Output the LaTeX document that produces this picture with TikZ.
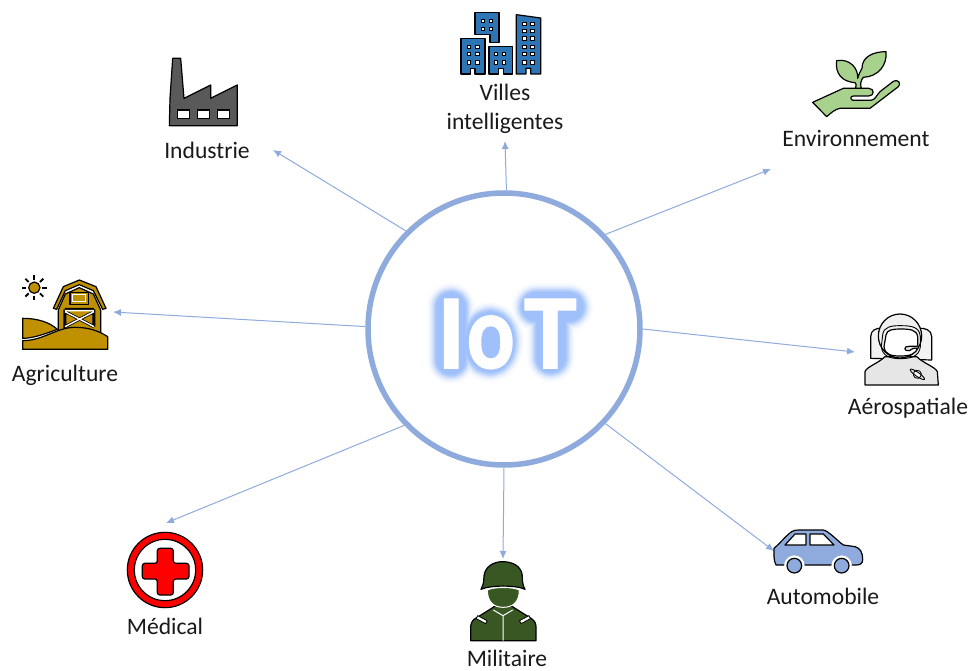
\documentclass[tikz,border=0pt]{standalone}
\usepackage{fontspec}
\usepackage{graphicx}
\setmainfont{Carlito}
\newfontfamily\iotfont{Carlito}[FakeBold=0.9,UprightFont=* Bold]
\usetikzlibrary{arrows.meta}
\definecolor{link}{HTML}{8FAADC}
\definecolor{glow}{HTML}{9FC0FA}
\definecolor{bldg}{HTML}{2E75B6}
\definecolor{fact}{HTML}{595959}
\definecolor{leaf}{HTML}{A9D18E}
\definecolor{barn}{HTML}{BF9000}
\definecolor{astro}{HTML}{E7E6E6}
\definecolor{army}{HTML}{385723}
\tikzset{
  hubring/.style={circle,draw=link,fill=white,line width=5.5pt,minimum size=272pt,inner sep=0pt},
  lbl/.style={font=\fontsize{23.6}{29}\selectfont,text=black!90,align=center,inner sep=0pt},
  conn/.style={draw=link,line width=1pt,-{Latex[length=8pt,width=7pt]}},
  ico/.style={draw=black,line width=1.2pt,line join=round},
  win/.style={fill=white,draw=black,line width=.9pt},
  zoomed/.style={scale=1/3}
}
\newcommand{\winat}[2]{\filldraw[win] (#1-5,#2-5) rectangle (#1+5,#2+5);}
\begin{document}
\begin{tikzpicture}[x=1pt,y=-1pt]
\useasboundingbox (0,0) rectangle (970,671);
% hub
\node[hubring] (hub) at (504,329) {};
\foreach \w/\c in {48/4,46/8,44/14,42/22,40/32,38/44,36/58,34/72,32/86,30/96,28/100}{
  \pgfmathsetmacro{\m}{\c}
  \draw[color=glow!\m!white,line width=\w pt,line cap=round,line join=round]
    (451,307)--(451,360)
    (490,342) ellipse (10 and 16)
    (536,307)--(569,307) (551,307)--(551,358);
}
\node[font=\fontsize{107}{107}\iotfont,text=white,inner sep=0pt] (iot) at (507,334) {I\kern1pt\scalebox{0.84}[1]{o}\kern9pt T};
% targets
\coordinate (tInd) at (273,150);
\coordinate (tVil) at (505,141);
\coordinate (tEnv) at (771,169);
\coordinate (tAer) at (855,352);
\coordinate (tAut) at (774,551);
\coordinate (tMil) at (503,559);
\coordinate (tMed) at (166,523);
\coordinate (tAgr) at (113,312);
\draw[conn] (hub.135.6) -- (tInd);
\draw[conn] (hub.89.6) -- (tVil);
\draw[conn] (hub.43.8) -- (tEnv);
\draw[conn] (hub.0.4) -- (tAer);
\draw[conn] (hub.-43.8) -- (tAut);
\draw[conn] (hub.-90) -- (tMil);
\draw[conn] (hub.-136.2) -- (tMed);
\draw[conn] (hub.179.6) -- (tAgr);
% labels
\node[lbl] (lInd) at (207,150) {Industrie};
\node[lbl] (lVil) at (505,109) {Villes\\intelligentes};
\node[lbl] (lEnv) at (856,138) {Environnement};
\node[lbl] (lAgr) at (65,375) {Agriculture};
\node[lbl] (lAer) at (908,408) {Aérospatiale};
\node[lbl] (lAut) at (823,596) {Automobile};
\node[lbl] (lMed) at (165,626) {Médical};
\node[lbl] (lMil) at (507,658) {Militaire};
% buildings
\begin{scope}[shift={(440,0)},zoomed]
\filldraw[ico,fill=bldg] (63,222)--(63,115)--(135,115)--(135,222)--(105,222)--(105,205)--(92,205)--(92,222)--cycle;
\filldraw[ico,fill=bldg] (105,38)--(177,38)--(177,128)--(150,128)--(150,103)--(105,103)--cycle;
\filldraw[ico,fill=bldg] (147,222)--(147,140)--(218,140)--(218,222)--(190,222)--(190,205)--(175,205)--(175,222)--cycle;
\filldraw[ico,fill=bldg] (229,222)--(229,44)--(302,54)--(302,222)--(272,222)--(272,205)--(258,205)--(258,222)--cycle;
\foreach \y in {140,162,187}{\foreach \x in {87,112}{\winat{\x}{\y}}}
\foreach \y in {62,86}{\foreach \x in {128,152}{\winat{\x}{\y}}}
\foreach \y in {162,187}{\foreach \x in {168,192}{\winat{\x}{\y}}}
\foreach \y in {72,92,115,140,162,187}{\foreach \x in {253,277}{\winat{\x}{\y}}}
\end{scope}
% factory
\begin{scope}[shift={(150,45)},zoomed]
\filldraw[ico,fill=fact] (58,242)--(60,160)--(68,40)--(92,40)--(102,160)--(182,120)--(182,160)--(262,120)--(262,242)--cycle;
\foreach \x in {83,143,203}{\filldraw[fill=white,draw=black,line width=1.2pt] (\x,195) rectangle (\x+35,220);}
\end{scope}
% plant and hand
\begin{scope}[shift={(800,40)},zoomed]
\filldraw[ico,fill=leaf] (38,187)--(130,145)--(206,145) .. controls (224,145) and (224,168) .. (206,168)--(160,168)
  .. controls (150,168) and (150,181) .. (160,181)--(212,181) .. controls (225,181) and (230,165) .. (240,155)
  --(280,124) .. controls (292,116) and (306,130) .. (295,140)--(210,205)--(120,205) .. controls (105,207) and (92,220) .. (80,230)--cycle;
\filldraw[ico,fill=leaf] (166,145) .. controls (170,135) and (168,128) .. (165,128)
  .. controls (125,125) and (105,100) .. (110,62) .. controls (150,55) and (175,85) .. (173,115)
  .. controls (178,100) and (180,95) .. (186,85) .. controls (186,50) and (220,35) .. (258,35)
  .. controls (262,75) and (235,110) .. (190,112) .. controls (182,120) and (180,135) .. (184,145)--cycle;
\end{scope}
% barn
\begin{scope}[shift={(10,270)},zoomed]
\foreach \a in {0,45,...,315}{\draw[line width=1.8pt] (73,53)+(\a:24)--+(\a:38);}
\filldraw[ico,fill=barn] (73,53) circle (17);
\filldraw[ico,fill=barn] (130,115)--(160,50)--(208,30)--(258,50)--(288,115)--(278,118)--(250,62)--(208,44)--(166,62)--(140,118)--cycle;
\filldraw[ico,fill=barn] (145,190)--(145,120)--(166,72)--(208,53)--(250,72)--(272,120)--(272,190)--cycle;
\filldraw[ico,fill=barn] (180,68) rectangle (235,103);
\draw[white,line width=1pt] (187,75) rectangle (228,96);
\draw[black,line width=3pt] (165,118)--(252,118) (165,118)--(165,175) (252,118)--(252,170) (165,125)--(252,170) (252,125)--(165,170);
\draw[white,line width=1.4pt] (165,122)--(252,122) (165,125)--(252,170) (252,125)--(165,170);
\filldraw[ico,fill=barn] (38,145) .. controls (85,145) and (120,158) .. (142,178) .. controls (110,190) and (70,205) .. (38,205)--cycle;
\filldraw[ico,fill=barn] (38,238)--(38,212) .. controls (100,212) and (140,172) .. (195,172) .. controls (240,172) and (270,185) .. (293,200)--(293,238)--cycle;
\end{scope}
% astronaut
\begin{scope}[shift={(850,305)},zoomed]
\filldraw[ico,fill=astro!50] (62,160)--(62,95) .. controls (62,75) and (80,68) .. (95,70)--(205,70) .. controls (225,68) and (245,75) .. (245,95)--(245,165)--cycle;
\filldraw[ico,fill=astro] (45,240)--(45,200) .. controls (50,185) and (85,175) .. (105,155)--(200,155) .. controls (220,175) and (255,185) .. (262,200)--(265,240)--cycle;
\filldraw[ico,fill=astro!60] (150,93) circle [x radius=65,y radius=66];
\draw[line width=.9pt] (98,90) .. controls (100,65) and (125,62) .. (150,62) .. controls (185,62) and (208,65) .. (211,95)--(211,125) .. controls (208,153) and (185,161) .. (150,161) .. controls (120,161) and (97,153) .. (94,125)--cycle;
\filldraw[ico,fill=white] (108,90) .. controls (110,74) and (130,72) .. (150,72) .. controls (180,72) and (200,74) .. (203,95)--(203,125) .. controls (200,150) and (175,153) .. (150,153) .. controls (125,153) and (105,150) .. (102,125)--cycle;
\filldraw[ico,fill=astro] (203,124)--(178,124) .. controls (160,122) and (160,140) .. (178,137) --(190,130)--(203,130);
\begin{scope}[rotate around={-35:(202,208)}]
\draw[line width=.9pt,fill=white] (202,208) circle (12);
\draw[line width=.9pt] (202,208) ellipse (26 and 6);
\end{scope}
\end{scope}
% car
\begin{scope}[shift={(760,520)},zoomed]
\filldraw[ico,fill=link] (42,85) .. controls (60,70) and (80,45) .. (95,35) .. controls (100,30) and (110,30) .. (120,30)--(190,30) .. controls (205,32) and (235,65) .. (250,75)--(285,80) .. controls (300,85) and (308,95) .. (308,120) .. controls (308,130) and (300,135) .. (290,135)--(48,135) .. controls (40,120) and (42,100) .. (42,85)--cycle;
\filldraw[fill=white,draw=white] (103,137) circle (30);
\filldraw[fill=white,draw=white] (245,137) circle (30);
\fill[white] (70,137) rectangle (280,170);
\filldraw[ico,fill=link] (103,137) circle (22);
\filldraw[ico,fill=link] (245,137) circle (22);
\filldraw[fill=white,draw=black,line width=1.2pt,line join=round] (75,75)--(105,42)--(138,42)--(138,75)--cycle;
\filldraw[fill=white,draw=black,line width=1.2pt,line join=round] (150,42)--(190,42)--(222,75)--(150,75)--cycle;
\end{scope}
% soldier
\begin{scope}[shift={(460,550)},zoomed]
\filldraw[ico,fill=army] (32,272)--(32,228) .. controls (34,215) and (40,208) .. (50,203)--(90,178)--(105,168)--(155,168)--(170,178)--(210,203) .. controls (222,210) and (228,218) .. (228,230)--(228,272)--cycle;
\draw[white,line width=1pt] (129,272)--(129,197)--(100,180) (129,197)--(158,180);
\filldraw[fill=white,draw=black,line width=.8pt,rotate around={-28:(65,209)}] (49,204) rectangle (81,214);
\filldraw[fill=white,draw=black,line width=.8pt,rotate around={28:(195,209)}] (179,204) rectangle (211,214);
\filldraw[draw=white,line width=1pt,fill=army] (82,120) .. controls (82,155) and (100,172) .. (130,172) .. controls (160,172) and (178,155) .. (178,120) .. controls (160,110) and (100,110) .. (82,120)--cycle;
\filldraw[ico,fill=army] (63,118) .. controls (72,100) and (72,90) .. (72,78) .. controls (75,50) and (100,35) .. (128,35) .. controls (160,35) and (185,50) .. (187,78) .. controls (187,90) and (187,105) .. (195,118) .. controls (170,105) and (90,105) .. (63,118)--cycle;
\end{scope}
% medical
\begin{scope}[shift={(120,525)},zoomed]
\filldraw[draw=black,fill=red,line width=1.2pt] (135,135) circle (113);
\filldraw[draw=black,fill=white,line width=1.2pt] (135,135) circle (92);
\filldraw[draw=black,fill=red,line width=1.2pt,rounded corners=2.5pt]
  (112,70)--(160,70)--(160,115)--(207,115)--(207,162)--(160,162)--(160,210)--(112,210)--(112,162)--(67,162)--(67,115)--(112,115)--cycle;
\end{scope}
\end{tikzpicture}
\end{document}
